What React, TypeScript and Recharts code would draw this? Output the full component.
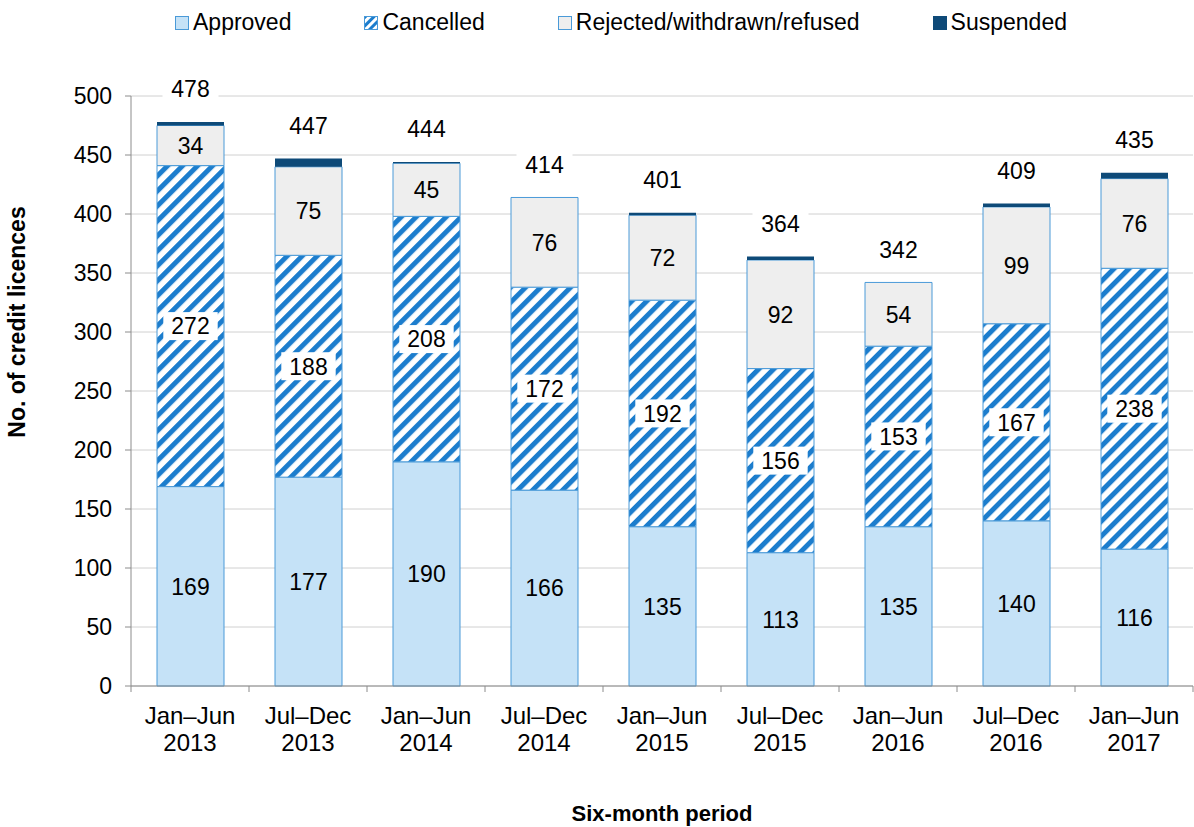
import { BarChart, Bar, XAxis, YAxis, CartesianGrid, LabelList } from "recharts";

const periods = [
  "Jan–Jun 2013",
  "Jul–Dec 2013",
  "Jan–Jun 2014",
  "Jul–Dec 2014",
  "Jan–Jun 2015",
  "Jul–Dec 2015",
  "Jan–Jun 2016",
  "Jul–Dec 2016",
  "Jan–Jun 2017",
];
const approved = [169, 177, 190, 166, 135, 113, 135, 140, 116];
const cancelled = [272, 188, 208, 172, 192, 156, 153, 167, 238];
const rejected = [34, 75, 45, 76, 72, 92, 54, 99, 76];
const suspended = [3, 7, 1, 0, 2, 3, 0, 3, 5];
const totals = [478, 447, 444, 414, 401, 364, 342, 409, 435];
const yTicks = [0, 50, 100, 150, 200, 250, 300, 350, 400, 450, 500];

const data = periods.map((period, i) => ({
  period,
  approved: approved[i],
  cancelled: cancelled[i],
  rejected: rejected[i],
  suspended: suspended[i],
  total: totals[i],
}));

const FONT = "'Liberation Sans', Arial, sans-serif";
const FS = 23;
const BLUE_EDGE = "#4A9AD8";
const STRIPE = "#1C7DCD";
const APPROVED_FILL = "#C5E2F7";
const REJECTED_FILL = "#EEEEEE";
const SUSPENDED_FILL = "#0E4A78";
const AXIS = "#8C8C8C";

const legendItems = [
  { name: "Approved", fill: APPROVED_FILL, stroke: BLUE_EDGE },
  { name: "Cancelled", fill: "url(#stripesLegend)", stroke: BLUE_EDGE },
  { name: "Rejected/withdrawn/refused", fill: REJECTED_FILL, stroke: BLUE_EDGE },
  { name: "Suspended", fill: SUSPENDED_FILL, stroke: SUSPENDED_FILL },
];

function box(props: any) {
  const vb = props.viewBox || props;
  return { x: Number(vb.x), y: Number(vb.y), w: Number(vb.width), h: Number(vb.height) };
}

function CenterLabel(props: any) {
  const { x, y, w, h } = box(props);
  return (
    <text x={x + w / 2} y={y + h / 2} dy="0.36em" textAnchor="middle" fontSize={FS} fill="#000" fontFamily={FONT}>
      {props.value}
    </text>
  );
}

function BoxedLabel(props: any) {
  const { x, y, w, h } = box(props);
  const cx = x + w / 2;
  const cy = y + h / 2;
  const bw = String(props.value).length * 12.8 + 16;
  return (
    <g>
      <rect x={cx - bw / 2} y={cy - 14} width={bw} height={28} fill="#fff" />
      <text x={cx} y={cy} dy="0.36em" textAnchor="middle" fontSize={FS} fill="#000" fontFamily={FONT}>
        {props.value}
      </text>
    </g>
  );
}

// total sits above the stack; suspended height derived from the rejected segment's px-per-unit
function TotalLabel(props: any) {
  const { x, y, w, h } = box(props);
  const i = props.index;
  const perUnit = h / rejected[i];
  const top = y - suspended[i] * perUnit;
  const cx = x + w / 2;
  const cy = top - 33;
  return (
    <g>
      <rect x={cx - 28} y={cy - 13} width={56} height={26} fill="#fff" />
      <text x={cx} y={cy} dy="0.36em" textAnchor="middle" fontSize={FS} fill="#000" fontFamily={FONT}>
        {totals[i]}
      </text>
    </g>
  );
}

function PeriodTick(props: any) {
  const { x, y, payload, index, visibleTicksCount } = props;
  const half = payload.offset || 59;
  const [first, second] = String(payload.value).split(" ");
  const axisY = y;
  return (
    <g>
      <line x1={x - half} x2={x - half} y1={axisY} y2={axisY + 6} stroke={AXIS} />
      {index === visibleTicksCount - 1 && (
        <line x1={x + half} x2={x + half} y1={axisY} y2={axisY + 6} stroke={AXIS} />
      )}
      <text x={x} y={axisY + 38} textAnchor="middle" fontSize={24} fill="#000" fontFamily={FONT}>
        {first}
      </text>
      <text x={x} y={axisY + 65} textAnchor="middle" fontSize={24} fill="#000" fontFamily={FONT}>
        {second}
      </text>
    </g>
  );
}

function Legend() {
  return (
    <div
      style={{
        position: "absolute",
        left: 175,
        top: 9,
        display: "flex",
        gap: 73,
        fontSize: FS,
        fontFamily: FONT,
        whiteSpace: "nowrap",
      }}
    >
      {legendItems.map((item) => (
        <div key={item.name} style={{ display: "flex", alignItems: "center", gap: 4 }}>
          <svg width={14} height={14}>
            <defs>
              <pattern id="stripesLegend" width={6} height={6} patternUnits="userSpaceOnUse" patternTransform="rotate(45)">
                <rect width={6} height={6} fill="#fff" />
                <rect width={3} height={6} fill={STRIPE} />
              </pattern>
            </defs>
            <rect x={0.5} y={0.5} width={13} height={13} fill={item.fill} stroke={item.stroke} />
          </svg>
          <span>{item.name}</span>
        </div>
      ))}
    </div>
  );
}

export default function App() {
  return (
    <div
      style={{
        position: "absolute",
        left: 0,
        top: 0,
        width: 1194,
        height: 827,
        background: "#fff",
        fontFamily: FONT,
      }}
    >
      <BarChart
        width={1194}
        height={827}
        data={data}
        margin={{ top: 96, right: 1, bottom: 0, left: 0 }}
        barSize={67}
      >
        <defs>
          <pattern id="stripes" width={10.6} height={10.6} patternUnits="userSpaceOnUse" patternTransform="rotate(45)">
            <rect width={10.6} height={10.6} fill="#fff" />
            <rect width={5} height={10.6} fill={STRIPE} />
          </pattern>
        </defs>
        <CartesianGrid vertical={false} stroke="#D0D0D0" />
        <XAxis
          dataKey="period"
          height={141}
          axisLine={{ stroke: AXIS }}
          tickLine={false}
          tickSize={0}
          tickMargin={0}
          interval={0}
          tick={<PeriodTick />}
        />
        <YAxis
          width={131}
          domain={[0, 500]}
          ticks={yTicks}
          interval={0}
          axisLine={{ stroke: AXIS }}
          tickLine={{ stroke: AXIS }}
          tickSize={6}
          tickMargin={13}
          tick={{ fontSize: FS, fill: "#000", fontFamily: FONT }}
        />
        <Bar dataKey="approved" stackId="s" fill={APPROVED_FILL} stroke={BLUE_EDGE} strokeWidth={1} isAnimationActive={false}>
          <LabelList dataKey="approved" content={<CenterLabel />} />
        </Bar>
        <Bar dataKey="cancelled" stackId="s" fill="url(#stripes)" stroke={BLUE_EDGE} strokeWidth={1} isAnimationActive={false}>
          <LabelList dataKey="cancelled" content={<BoxedLabel />} />
        </Bar>
        <Bar dataKey="rejected" stackId="s" fill={REJECTED_FILL} stroke={BLUE_EDGE} strokeWidth={1} isAnimationActive={false}>
          <LabelList dataKey="rejected" content={<CenterLabel />} />
          <LabelList dataKey="total" content={<TotalLabel />} />
        </Bar>
        <Bar dataKey="suspended" stackId="s" fill={SUSPENDED_FILL} isAnimationActive={false} />
      </BarChart>
      <Legend />
      <div
        style={{
          position: "absolute",
          left: 17,
          top: 322,
          transform: "translate(-50%, -50%) rotate(-90deg)",
          fontSize: 23,
          fontWeight: "bold",
          whiteSpace: "nowrap",
        }}
      >
        No. of credit licences
      </div>
      <div
        style={{
          position: "absolute",
          left: 662,
          top: 814,
          transform: "translate(-50%, -50%)",
          fontSize: 22,
          fontWeight: "bold",
          whiteSpace: "nowrap",
        }}
      >
        Six-month period
      </div>
    </div>
  );
}
